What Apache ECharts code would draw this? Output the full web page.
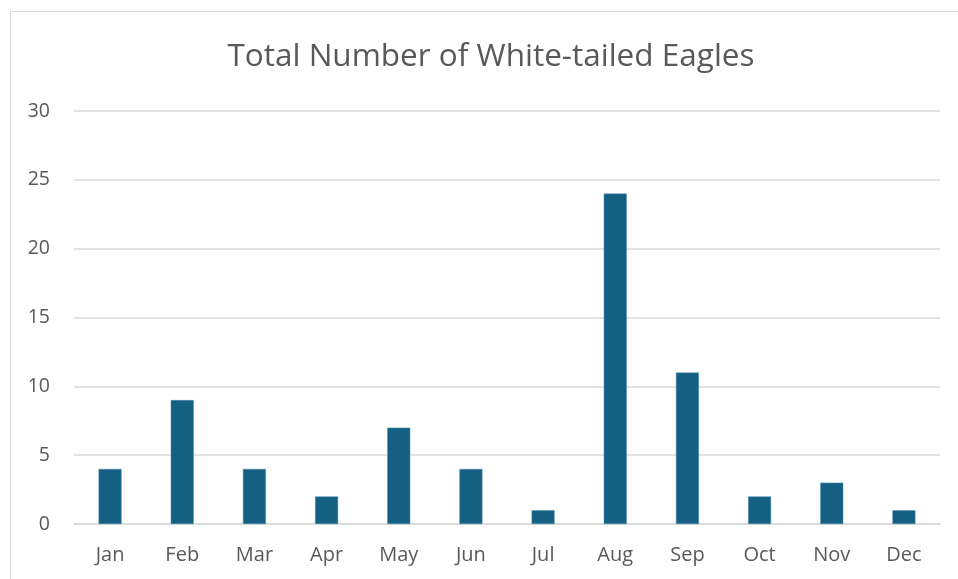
<!DOCTYPE html>
<html><head><meta charset="utf-8">
<script src="https://cdn.jsdelivr.net/npm/echarts@6/dist/echarts.min.js"></script>
<style>html,body{margin:0;padding:0;background:#fff}#c{width:958px;height:579px}
#frame{position:absolute;left:10px;top:11px;width:1000px;height:700px;border:1.5px solid #d9d9d9;pointer-events:none}</style>
</head><body><div id="c"></div><div id="frame"></div>
<script>
const titleText = 'Total Number of White-tailed Eagles';
const months = ['Jan','Feb','Mar','Apr','May','Jun','Jul','Aug','Sep','Oct','Nov','Dec'];
const eagles = [4, 9, 4, 2, 7, 4, 1, 24, 11, 2, 3, 1];
const yTicks = [0, 5, 10, 15, 20, 25, 30];
const chart = echarts.init(document.getElementById('c'));
const font = '"Open Sans", sans-serif';
chart.setOption({
  animation: false,
  title: { text: titleText, left: 486, top: 36, textAlign: 'center',
    textStyle: { fontFamily: font, fontWeight: 'normal', fontSize: 31.5, color: '#595959' } },
  grid: { left: 74, right: 18, top: 111, bottom: 55, containLabel: false },
  xAxis: { type: 'category', data: months,
    axisLine: { lineStyle: { color: '#d9d9d9', width: 1.5 } }, axisTick: { show: false },
    axisLabel: { fontFamily: font, fontSize: 20, color: '#595959', margin: 21 } },
  yAxis: { type: 'value', min: yTicks[0], max: yTicks[yTicks.length-1], interval: 5,
    axisLine: { show: false }, axisTick: { show: false },
    splitLine: { lineStyle: { color: '#d9d9d9', width: 1.5 } },
    axisLabel: { fontFamily: font, fontSize: 19.5, color: '#595959', margin: 24 } },
  series: [{ type: 'bar', data: eagles, barWidth: 23,
    itemStyle: { color: '#156082', borderColor: '#4f8fb0', borderWidth: 0.5 } }]
});
</script></body></html>
